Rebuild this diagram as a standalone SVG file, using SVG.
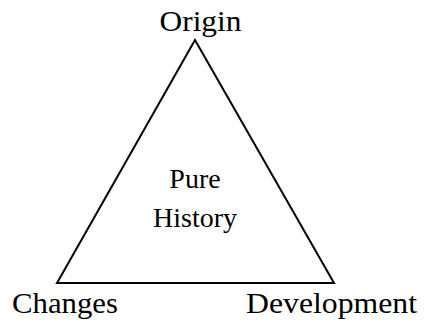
<svg xmlns="http://www.w3.org/2000/svg" width="425" height="324" viewBox="0 0 425 324">
<style>
.big{font-size:30px}
.mid{font-size:28px}
.edge{fill:none;stroke:#000;stroke-width:2;stroke-linejoin:miter}
</style>
<rect width="425" height="324" fill="#fff"/>
<g id="connectors">
<polygon class="edge" points="195,40 57,283 334,283"/>
</g>
<g font-family="'Liberation Serif', 'Times New Roman', serif" fill="#000">
<g id="origin"><text class="big" x="200.5" y="31" text-anchor="middle" textLength="82" lengthAdjust="spacingAndGlyphs">Origin</text></g>
<g id="changes"><text class="big" x="12" y="313" textLength="106" lengthAdjust="spacingAndGlyphs">Changes</text></g>
<g id="development"><text class="big" x="246" y="313" textLength="171" lengthAdjust="spacingAndGlyphs">Development</text></g>
<g id="pure-history">
<text class="mid" x="195" y="188" text-anchor="middle">Pure</text>
<text class="mid" x="195" y="227" text-anchor="middle">History</text>
</g>
</g>
</svg>
